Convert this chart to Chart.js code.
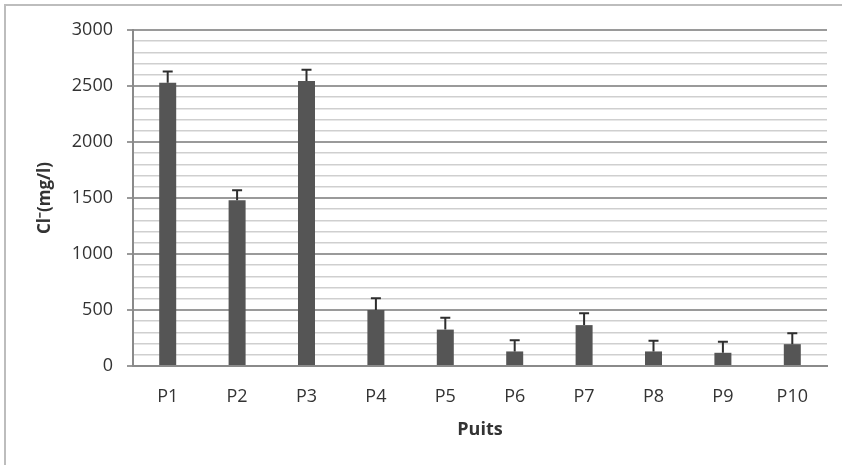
<!DOCTYPE html>
<html>
<head>
<meta charset="utf-8">
<script src="https://cdn.jsdelivr.net/npm/chart.js@4.4.0/dist/chart.umd.min.js"></script>
<style>
  body { margin: 0; background: #fff; }
  #frame { position: absolute; left: 4px; top: 4px; width: 900px; height: 500px;
           border-left: 2px solid #bdbdbd; border-top: 2px solid #bdbdbd; }
  #wrap { position: absolute; left: 0; top: 0; width: 842px; height: 465px; }
</style>
</head>
<body>
<div id="frame"></div>
<div id="wrap"><canvas id="myChart" width="842" height="465"></canvas></div>
<script>
const puits = ['P1', 'P2', 'P3', 'P4', 'P5', 'P6', 'P7', 'P8', 'P9', 'P10'];
const chlorures = [2530, 1480, 2545, 500, 325, 130, 365, 130, 118, 195];
const ecarts = [100, 90, 100, 105, 105, 100, 105, 95, 98, 97];

const fontFam = "'Open Sans', 'Liberation Sans', sans-serif";

// barres d'erreur (vers le haut seulement)
const errorBars = {
  id: 'errorBars',
  afterDatasetsDraw(chart) {
    const ctx = chart.ctx;
    const y = chart.scales.y;
    const meta = chart.getDatasetMeta(0);
    ctx.save();
    ctx.strokeStyle = '#2e2e2e';
    ctx.lineWidth = 2;
    meta.data.forEach((bar, i) => {
      const top = y.getPixelForValue(chlorures[i] + ecarts[i]);
      ctx.beginPath();
      ctx.moveTo(bar.x, bar.y);
      ctx.lineTo(bar.x, top);
      ctx.moveTo(bar.x - 5, top);
      ctx.lineTo(bar.x + 5, top);
      ctx.stroke();
    });
    ctx.restore();
  }
};

const ctx = document.getElementById('myChart');
new Chart(ctx, {
  type: 'bar',
  data: {
    labels: puits,
    datasets: [{
      data: chlorures,
      backgroundColor: '#555555',
      barPercentage: 0.5,
      categoryPercentage: 0.49
    }]
  },
  options: {
    responsive: false,
    animation: false,
    layout: { padding: { top: 30, right: 15, left: 0, bottom: 0 } },
    plugins: { legend: { display: false }, tooltip: { enabled: false } },
    scales: {
      x: {
        grid: { display: false },
        border: { color: '#8a8a8a', width: 2 },
        ticks: { color: '#333', font: { family: fontFam, size: 18 }, padding: 12 },
        title: { display: true, text: 'Puits', color: '#333',
                 font: { family: fontFam, size: 18, weight: 'bold' },
                 padding: { top: 24, bottom: 24 } },
        afterFit(scale) { scale.height = 99; }
      },
      y: {
        min: 0, max: 3000,
        border: { color: '#8a8a8a', width: 2 },
        grid: {
          color: c => (c.tick && c.tick.value % 500 === 0) ? '#9a9a9a' : '#cfcfcf',
          lineWidth: c => (c.tick && c.tick.value % 500 === 0) ? 2 : 1.5,
          tickColor: c => (c.tick && c.tick.value % 500 === 0) ? '#9a9a9a' : 'rgba(0,0,0,0)',
          tickLength: 6
        },
        ticks: {
          stepSize: 100,
          autoSkip: false,
          color: '#333',
          font: { family: fontFam, size: 18 },
          padding: 14,
          callback: v => (v % 500 === 0 ? v : '')
        },
        title: { display: true, text: 'Cl⁻(mg/l)', color: '#333',
                 font: { family: fontFam, size: 17, weight: 'bold' },
                 padding: { top: 35, bottom: 35 } },
        afterFit(scale) { scale.width = 133; }
      }
    }
  },
  plugins: [errorBars]
});
</script>
</body>
</html>
